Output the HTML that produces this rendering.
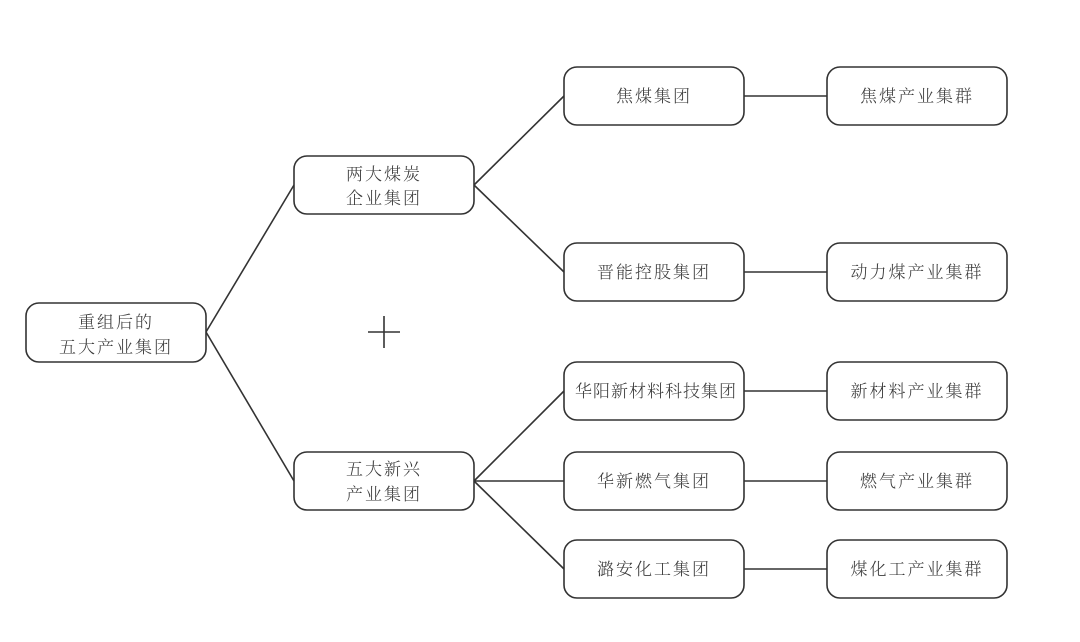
<!DOCTYPE html>
<html><head><meta charset="utf-8"><style>
html,body{margin:0;padding:0;background:#fff;}
svg{display:block}
text{font-family:"Liberation Serif","Noto Serif CJK SC","Noto Sans CJK SC",serif;font-size:17px;fill:#3a3a3a;text-anchor:middle;letter-spacing:2px;font-weight:300}
rect{fill:#fff;stroke:#333;stroke-width:1.6}
line{stroke:#333;stroke-width:1.6}
</style></head><body>
<svg width="1080" height="642" viewBox="0 0 1080 642">
<line x1="206" y1="332" x2="294" y2="185"/>
<line x1="206" y1="332" x2="294" y2="481"/>
<line x1="474" y1="185" x2="564" y2="96"/>
<line x1="474" y1="185" x2="564" y2="272"/>
<line x1="474" y1="481" x2="564" y2="391"/>
<line x1="474" y1="481" x2="564" y2="481"/>
<line x1="474" y1="481" x2="564" y2="569"/>
<line x1="744" y1="96" x2="827" y2="96"/>
<line x1="744" y1="272" x2="827" y2="272"/>
<line x1="744" y1="391" x2="827" y2="391"/>
<line x1="744" y1="481" x2="827" y2="481"/>
<line x1="744" y1="569" x2="827" y2="569"/>
<line x1="368" y1="332" x2="400" y2="332"/>
<line x1="384" y1="316" x2="384" y2="348"/>

<rect x="26" y="303" width="180" height="59" rx="13"/>
<text x="116" y="328">重组后的</text><text x="116" y="353">五大产业集团</text>
<rect x="294" y="156" width="180" height="58" rx="13"/>
<text x="384" y="180">两大煤炭</text><text x="384" y="204">企业集团</text>
<rect x="294" y="452" width="180" height="58" rx="13"/>
<text x="384" y="475">五大新兴</text><text x="384" y="500">产业集团</text>

<rect x="564" y="67" width="180" height="58" rx="13"/><text x="654" y="102">焦煤集团</text>
<rect x="564" y="243" width="180" height="58" rx="13"/><text x="654" y="278">晋能控股集团</text>
<rect x="564" y="362" width="180" height="58" rx="13"/><text x="656" y="397" style="letter-spacing:1px">华阳新材料科技集团</text>
<rect x="564" y="452" width="180" height="58" rx="13"/><text x="654" y="487">华新燃气集团</text>
<rect x="564" y="540" width="180" height="58" rx="13"/><text x="654" y="575">潞安化工集团</text>

<rect x="827" y="67" width="180" height="58" rx="13"/><text x="917" y="102">焦煤产业集群</text>
<rect x="827" y="243" width="180" height="58" rx="13"/><text x="917" y="278">动力煤产业集群</text>
<rect x="827" y="362" width="180" height="58" rx="13"/><text x="917" y="397">新材料产业集群</text>
<rect x="827" y="452" width="180" height="58" rx="13"/><text x="917" y="487">燃气产业集群</text>
<rect x="827" y="540" width="180" height="58" rx="13"/><text x="917" y="575">煤化工产业集群</text>
</svg>
</body></html>
